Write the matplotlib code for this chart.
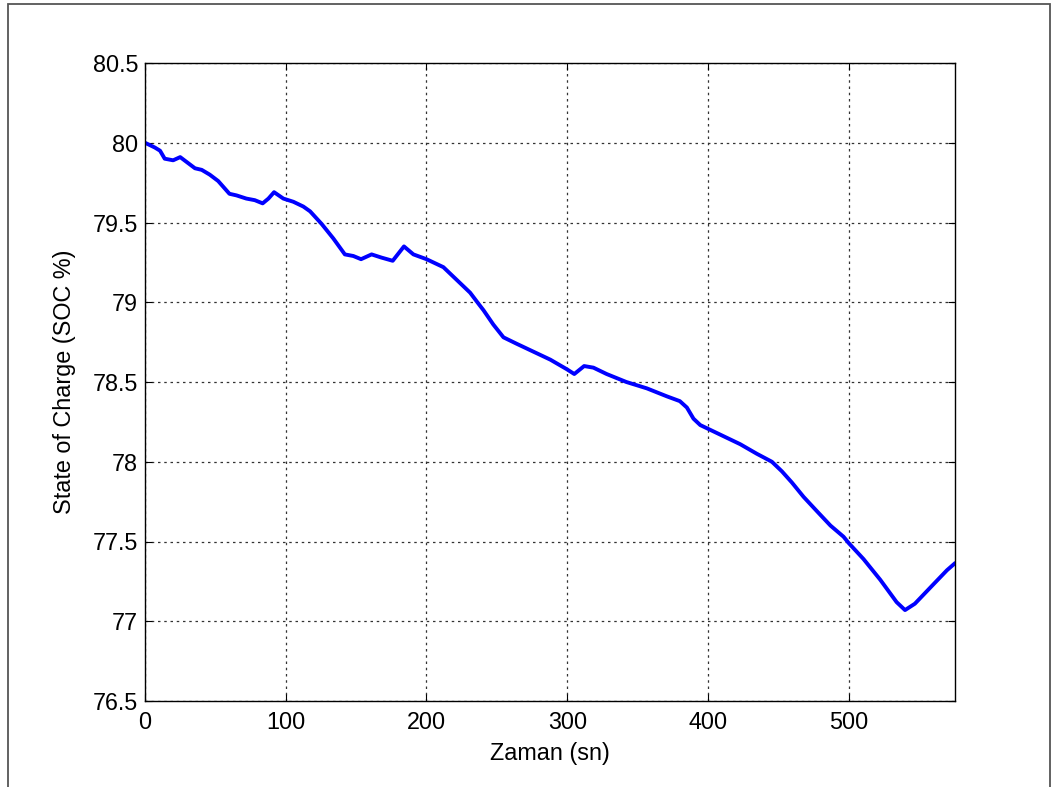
import matplotlib
matplotlib.use("Agg")
import matplotlib.pyplot as plt
from matplotlib.patches import Rectangle

plt.rcParams['font.family'] = ['Liberation Sans', 'DejaVu Sans']

# Battery state of charge over the drive cycle
time_s = [0, 7, 10.7, 14, 20, 25, 31, 35.5, 40.3, 46, 52, 57, 60, 65, 72, 78,
          83.6, 87.7, 91.7, 98.3, 105.4, 112.5, 117.3, 125.6, 133.8, 142, 148,
          153.5, 161, 168, 176, 184, 190.7, 200, 212, 222.7, 231, 237, 240.5,
          247.5, 254.7, 264, 278.4, 288, 299.7, 305, 312, 318.6, 328, 342,
          356.6, 370.8, 380, 385, 389.7, 394.5, 408.7, 422.9, 434.7, 445.4,
          452.5, 459.6, 467.9, 477.4, 487, 496.3, 500, 510.5, 522.4, 534, 540,
          547, 560, 569.8, 575]
soc = [80.00, 79.97, 79.95, 79.90, 79.89, 79.91, 79.87, 79.84, 79.83, 79.80,
       79.76, 79.71, 79.68, 79.67, 79.65, 79.64, 79.62, 79.65, 79.69, 79.65,
       79.63, 79.60, 79.57, 79.49, 79.40, 79.30, 79.29, 79.27, 79.30, 79.28,
       79.26, 79.35, 79.30, 79.27, 79.22, 79.13, 79.06, 78.99, 78.95, 78.86,
       78.78, 78.74, 78.68, 78.64, 78.58, 78.55, 78.60, 78.59, 78.55, 78.50,
       78.46, 78.41, 78.38, 78.34, 78.27, 78.23, 78.17, 78.11, 78.05, 78.00,
       77.94, 77.87, 77.78, 77.69, 77.60, 77.53, 77.49, 77.39, 77.26, 77.12,
       77.07, 77.11, 77.23, 77.32, 77.36]

x_ticks = [0, 100, 200, 300, 400, 500]
y_ticks = [76.5, 77, 77.5, 78, 78.5, 79, 79.5, 80, 80.5]
y_tick_labels = ['76.5', '77', '77.5', '78', '78.5', '79', '79.5', '80', '80.5']

W, H = 1059, 787
fig = plt.figure(figsize=(W / 100, H / 100), dpi=100)
fig.patch.set_facecolor('white')

# outer frame around the figure
fig.add_artist(Rectangle((8 / W, -0.05), (1050 - 8) / W, 1.05 - 4 / H,
                         transform=fig.transFigure, fill=False,
                         edgecolor='#555555', linewidth=1.3))

ax = fig.add_axes([145 / W, 1 - 701 / H, (955 - 145) / W, (701 - 63) / H])
ax.plot(time_s, soc, color='#0000ff', linewidth=2.8, solid_joinstyle='round')

ax.set_xlim(0, 575.5)
ax.set_ylim(76.5, 80.5)
ax.set_xticks(x_ticks)
ax.set_yticks(y_ticks)
ax.set_yticklabels(y_tick_labels)
ax.grid(True, linestyle=(0, (2, 3)), color='#333333', linewidth=0.9)
ax.tick_params(direction='in', top=True, right=True, length=5,
               labelsize=16.8, color='black')
ax.tick_params(axis='y', pad=5)
ax.tick_params(axis='x', pad=7)
for s in ax.spines.values():
    s.set_linewidth(1.0)
    s.set_color('black')

ax.set_xlabel('Zaman (sn)', fontsize=16.8, labelpad=6)
ax.set_ylabel('State of Charge (SOC %)', fontsize=16.8, labelpad=12)

fig.savefig('out.png', dpi=100, facecolor='white')
